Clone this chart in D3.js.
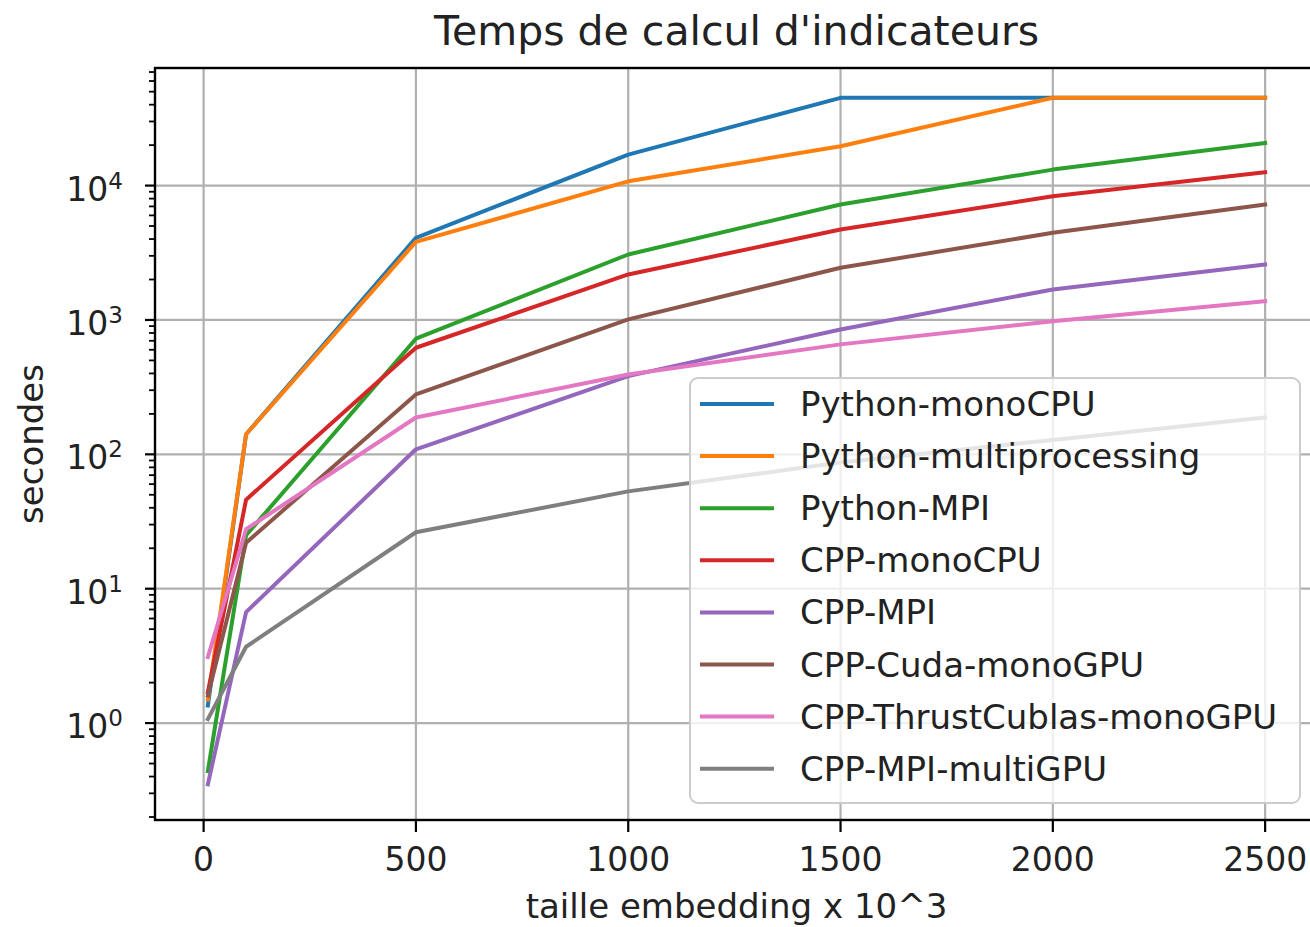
<!DOCTYPE html>
<html>
<head>
<meta charset="utf-8">
<script src="https://cdn.jsdelivr.net/npm/d3@7"></script>
<style>
  body { margin: 0; background: #fff; }
  svg { display: block; font-family: "DejaVu Sans", sans-serif; }
</style>
</head>
<body>
<svg id="chart" width="1310" height="927"></svg>
<script>
// taille embedding (x 10^3)
const sizes = [10, 100, 500, 1000, 1500, 2000, 2500];

const seriesNames = [
  "Python-monoCPU", "Python-multiprocessing", "Python-MPI", "CPP-monoCPU",
  "CPP-MPI", "CPP-Cuda-monoGPU", "CPP-ThrustCublas-monoGPU", "CPP-MPI-multiGPU"
];

// temps en secondes
const pythonMonoCPU   = [1.35, 141, 4085, 17000, 45000, 45000, 45000];
const pythonMultiproc = [1.5, 141, 3810, 10760, 19600, 45000, 45000];
const pythonMPI       = [0.44, 25, 725, 3070, 7230, 13150, 20750];
const cppMonoCPU      = [1.7, 46, 621, 2180, 4710, 8320, 12560];
const cppMPI          = [0.35, 6.7, 109, 382, 850, 1687, 2590];
const cppCudaMonoGPU  = [1.6, 22, 279, 1010, 2445, 4450, 7230];
const cppThrustCublas = [3.1, 27.7, 188, 393, 658, 980, 1380];
const cppMPIMultiGPU  = [1.07, 3.7, 26.3, 53, 87, 128, 188];

const seriesValues = [pythonMonoCPU, pythonMultiproc, pythonMPI, cppMonoCPU,
  cppMPI, cppCudaMonoGPU, cppThrustCublas, cppMPIMultiGPU];

const colors = ["#1f77b4", "#ff7f0e", "#2ca02c", "#d62728",
  "#9467bd", "#8c564b", "#e377c2", "#7f7f7f"];

const xTicks = [0, 500, 1000, 1500, 2000, 2500];
const yTickExps = [0, 1, 2, 3, 4];
const yDomain = [0.19, 75000];

const svg = d3.select("#chart");
const plotLeft = 155, plotRight = 1318, plotTop = 68, plotBottom = 820;

// marge 5% comme matplotlib
const xMin = d3.min(sizes), xMax = d3.max(sizes);
const xPad = (xMax - xMin) * 0.05;
const x = d3.scaleLinear().domain([xMin - xPad, xMax + xPad]).range([plotLeft, plotRight]);

const y = d3.scaleLog().domain(yDomain).range([plotBottom, plotTop]);

svg.append("defs").append("clipPath").attr("id", "clip")
  .append("rect").attr("x", plotLeft).attr("y", plotTop)
  .attr("width", plotRight - plotLeft).attr("height", plotBottom - plotTop);

// grille
const grid = svg.append("g").attr("stroke", "#b0b0b0").attr("stroke-width", 2.2);
xTicks.forEach(t => {
  grid.append("line").attr("x1", x(t)).attr("x2", x(t)).attr("y1", plotTop).attr("y2", plotBottom);
});
yTickExps.forEach(e => {
  grid.append("line").attr("x1", plotLeft).attr("x2", plotRight)
    .attr("y1", y(10 ** e)).attr("y2", y(10 ** e));
});

// courbes
const line = d3.line().x((d, i) => x(sizes[i])).y(d => y(d));
svg.append("g").attr("clip-path", "url(#clip)")
  .selectAll("path")
  .data(seriesValues)
  .enter().append("path")
  .attr("d", d => line(d))
  .attr("fill", "none")
  .attr("stroke", (d, i) => colors[i])
  .attr("stroke-width", 4)
  .attr("stroke-linejoin", "round")
  .attr("stroke-linecap", "square");

// cadre
svg.append("rect").attr("x", plotLeft).attr("y", plotTop)
  .attr("width", plotRight - plotLeft).attr("height", plotBottom - plotTop)
  .attr("fill", "none").attr("stroke", "#000").attr("stroke-width", 2.4);

// axe x
const xAxis = svg.append("g");
xTicks.forEach(t => {
  xAxis.append("line").attr("x1", x(t)).attr("x2", x(t))
    .attr("y1", plotBottom).attr("y2", plotBottom + 12)
    .attr("stroke", "#000").attr("stroke-width", 2.2);
  xAxis.append("text").attr("x", x(t)).attr("y", 871)
    .attr("text-anchor", "middle").attr("font-size", 33).attr("fill", "#222")
    .text(t);
});

// axe y (log) : graduations majeures et mineures
const yAxis = svg.append("g");
const [yd0, yd1] = y.domain();
for (let e = Math.floor(Math.log10(yd0)); e <= Math.ceil(Math.log10(yd1)); e++) {
  for (let j = 2; j <= 9; j++) {
    const v = j * 10 ** e;
    if (v < yd0 || v > yd1) continue;
    yAxis.append("line").attr("x1", plotLeft - 6).attr("x2", plotLeft)
      .attr("y1", y(v)).attr("y2", y(v))
      .attr("stroke", "#000").attr("stroke-width", 1.8);
  }
}
yTickExps.forEach(e => {
  const py = y(10 ** e);
  yAxis.append("line").attr("x1", plotLeft - 10).attr("x2", plotLeft)
    .attr("y1", py).attr("y2", py)
    .attr("stroke", "#000").attr("stroke-width", 2.2);
  const t = yAxis.append("text").attr("x", 123).attr("y", py + 15)
    .attr("text-anchor", "end").attr("font-size", 33).attr("fill", "#222");
  t.append("tspan").text("10");
  t.append("tspan").attr("dy", -12).attr("font-size", 23).text(e);
});

// titres
svg.append("text").attr("x", (plotLeft + plotRight) / 2).attr("y", 45)
  .attr("text-anchor", "middle").attr("font-size", 41).attr("fill", "#222")
  .text("Temps de calcul d'indicateurs");
svg.append("text").attr("x", (plotLeft + plotRight) / 2).attr("y", 918)
  .attr("text-anchor", "middle").attr("font-size", 34).attr("fill", "#222")
  .text("taille embedding x 10^3");
svg.append("text")
  .attr("transform", `translate(43,${(plotTop + plotBottom) / 2}) rotate(-90)`)
  .attr("text-anchor", "middle").attr("font-size", 34).attr("fill", "#222")
  .text("secondes");

// légende
const legend = svg.append("g");
legend.append("rect").attr("x", 690).attr("y", 378)
  .attr("width", 610).attr("height", 425).attr("rx", 8)
  .attr("fill", "#fff").attr("fill-opacity", 0.8)
  .attr("stroke", "#cccccc").attr("stroke-width", 2);
seriesNames.forEach((name, i) => {
  const ly = 404 + i * 52.1;
  legend.append("line").attr("x1", 700).attr("x2", 774)
    .attr("y1", ly).attr("y2", ly)
    .attr("stroke", colors[i]).attr("stroke-width", 4);
  legend.append("text").attr("x", 800).attr("y", ly + 12)
    .attr("font-size", 34).attr("fill", "#222")
    .text(name);
});
</script>
</body>
</html>
